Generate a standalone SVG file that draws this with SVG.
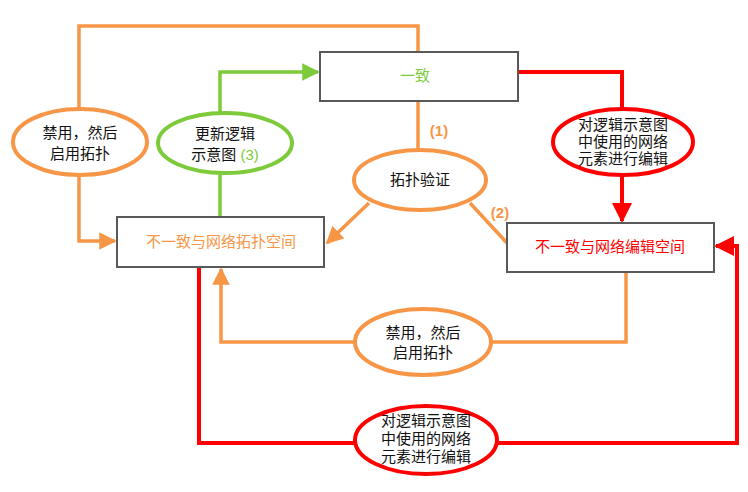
<svg xmlns="http://www.w3.org/2000/svg" width="748" height="492" viewBox="0 0 748 492">
<defs>
<marker id="ao" viewBox="0 0 10 10" refX="9" refY="5" markerWidth="5" markerHeight="5" orient="auto" markerUnits="strokeWidth"><path d="M0,0 L10,5 L0,10 z" fill="#F79646"/></marker>
<marker id="ag" viewBox="0 0 10 10" refX="9" refY="5" markerWidth="5" markerHeight="5" orient="auto" markerUnits="strokeWidth"><path d="M0,0 L10,5 L0,10 z" fill="#7DCB3A"/></marker>
<marker id="ar" viewBox="0 0 10 10" refX="9" refY="5" markerWidth="5" markerHeight="5" orient="auto" markerUnits="strokeWidth"><path d="M0,0 L10,5 L0,10 z" fill="#FF0000"/></marker>
</defs>
<style>
text{font-family:"Liberation Sans","Noto Sans CJK SC",sans-serif;font-size:15px;text-anchor:middle;fill:#111}
.box{fill:#fff;stroke:#595959;stroke-width:2}
.eo{fill:#fff;stroke:#F79646;stroke-width:4}
.eg{fill:#fff;stroke:#7DCB3A;stroke-width:4}
.er{fill:#fff;stroke:#FF0000;stroke-width:4}
.lo{fill:none;stroke:#F79646;stroke-width:3.5}
.lg{fill:none;stroke:#7DCB3A;stroke-width:3.5}
.lr{fill:none;stroke:#FF0000;stroke-width:4}
.num{font-weight:bold;fill:#F79646}
</style>
<g id="connectors">
<path class="lo" d="M79,109 V26 H418 V52"/>
<path class="lo" d="M79,176 V241 H115" marker-end="url(#ao)"/>
<path class="lg" d="M220,113 V72 H318" marker-end="url(#ag)"/>
<path class="lg" d="M220,173 V217"/>
<path class="lo" d="M418,102 V150"/>
<path class="lo" d="M369,203 L327,243" marker-end="url(#ao)"/>
<path class="lo" d="M470,203 L507,243"/>
<path class="lr" d="M518,72 H622 V109"/>
<path class="lr" d="M622,176 V221" marker-end="url(#ar)"/>
<path class="lo" d="M491,342 H626 V272"/>
<path class="lo" d="M355,342 H221 V269" marker-end="url(#ao)"/>
<path class="lr" d="M355,443 H199 V267"/>
<path class="lr" d="M497,443 H737 V246 H716" marker-end="url(#ar)"/>
</g>
<g id="n-consistent"><rect class="box" x="320" y="52" width="198" height="49"/><text x="415" y="81" style="fill:#7DCB3A">一致</text></g>
<g id="n-topo-space"><rect class="box" x="117" y="217" width="207" height="50"/><text x="221" y="247" style="fill:#F79646">不一致与网络拓扑空间</text></g>
<g id="n-edit-space"><rect class="box" x="507" y="223" width="207" height="49"/><text x="610" y="252" style="fill:#FF0000">不一致与网络编辑空间</text></g>
<g id="n-disable-left"><ellipse class="eo" cx="80" cy="142" rx="67" ry="33"/><text x="80" y="138">禁用，然后</text><text x="80" y="159">启用拓扑</text></g>
<g id="n-update"><ellipse class="eg" cx="225" cy="143" rx="67" ry="30"/><text x="225" y="139">更新逻辑</text><text x="225" y="160">示意图 <tspan style="fill:#7DCB3A">(3)</tspan></text></g>
<g id="n-validate"><ellipse class="eo" cx="420" cy="180" rx="66" ry="30"/><text x="420" y="185">拓扑验证</text></g>
<text class="num" x="439" y="136">(1)</text>
<text class="num" x="500" y="218">(2)</text>
<g id="n-edit-top"><ellipse class="er" cx="623" cy="142" rx="70" ry="33"/><text x="623" y="130">对逻辑示意图</text><text x="623" y="147">中使用的网络</text><text x="623" y="164">元素进行编辑</text></g>
<g id="n-disable-bottom"><ellipse class="eo" cx="423" cy="342" rx="68" ry="33"/><text x="423" y="338">禁用，然后</text><text x="423" y="358">启用拓扑</text></g>
<g id="n-edit-bottom"><ellipse class="er" cx="426" cy="440" rx="71" ry="34"/><text x="426" y="426">对逻辑示意图</text><text x="426" y="444">中使用的网络</text><text x="426" y="462">元素进行编辑</text></g>
</svg>
